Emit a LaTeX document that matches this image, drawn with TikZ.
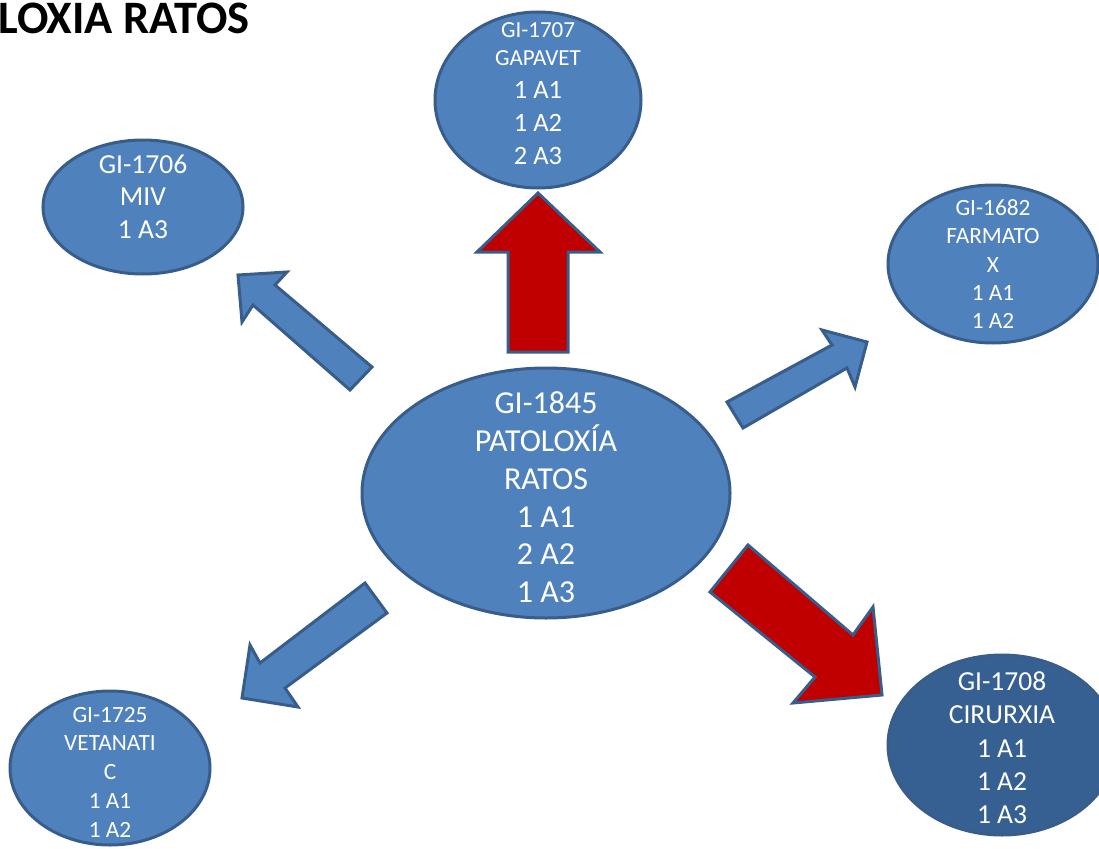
\documentclass[tikz,border=0pt]{standalone}
\usepackage{fontspec}
\setmainfont{Carlito}
\usetikzlibrary{shapes.geometric}

\definecolor{azulgrupo}{HTML}{4F81BD}
\definecolor{azulescuro}{HTML}{376092}
\definecolor{bordo}{HTML}{385D8A}
\definecolor{vermello}{HTML}{C00000}

\begin{document}
\begin{tikzpicture}[x=1pt, y=-1pt,
  grupo/.style={ellipse, draw=bordo, line width=3pt, fill=azulgrupo, inner sep=0pt},
  texto/.style={text=white, align=center, inner sep=0pt},
  frecha/.style={draw=bordo, line width=3pt, line join=miter, fill=azulgrupo},
  frechavermella/.style={frecha, fill=vermello}]
\useasboundingbox (0,0) rectangle (1099,848);
\node[anchor=base west, inner sep=0pt, font=\bfseries\fontsize{46.5}{50}\selectfont] (titulo) at (-2,34) {LOXIA RATOS};
% grupos
\node[grupo, minimum width=368pt, minimum height=250pt] (centro) at (546,493) {};
\node[texto, font=\fontsize{32}{37.8}\selectfont] (tcentro) at (546,497.4) {GI-1845\\PATOLOXÍA\\RATOS\\1 A1\\2 A2\\1 A3};
\node[grupo, minimum width=206pt, minimum height=176pt] (gapavet) at (538,100) {};
\node[texto, font=\fontsize{26.5}{33}\selectfont] (tgapavet) at (538,93.3) {{\fontsize{23}{28}\selectfont GI-1707}\\[-5pt]{\fontsize{23}{28}\selectfont GAPAVET}\\1 A1\\1 A2\\2 A3};
\node[grupo, minimum width=200pt, minimum height=134pt] (miv) at (143,207) {};
\node[texto, font=\fontsize{27.5}{32.5}\selectfont] (tmiv) at (143,196.8) {GI-1706\\MIV\\1 A3};
\node[grupo, minimum width=210pt, minimum height=158pt] (farmatox) at (993,264) {};
\node[texto, font=\fontsize{23.3}{28.25}\selectfont] (tfarmatox) at (993,264.1) {GI-1682\\FARMATO\\X\\1 A1\\1 A2};
\node[grupo, minimum width=200pt, minimum height=154pt] (vetanatic) at (110,768) {};
\node[texto, font=\fontsize{23.3}{28.75}\selectfont] (tvetanatic) at (110,772.1) {GI-1725\\VETANATI\\C\\1 A1\\1 A2};
\node[grupo, fill=azulescuro, minimum width=228pt, minimum height=180pt] (cirurxia) at (1002,745) {};
\node[texto, font=\fontsize{27.5}{33.25}\selectfont] (tcirurxia) at (1002,747.8) {GI-1708\\CIRURXIA\\1 A1\\1 A2\\1 A3};
% frechas
\draw[frechavermella] (538,193) -- (600,252) -- (568,252) -- (568,352) -- (508,352) -- (508,252) -- (477,252) -- cycle;
\draw[frechavermella] (882,695) -- (793,703) -- (815,677) -- (710,592) -- (748,545) -- (853,635) -- (873,607) -- cycle;
\draw[frecha] (238,275) -- (287,272) -- (275,285) -- (372,367) -- (350,390) -- (253,305) -- (242,322) -- cycle;
\draw[frecha] (867,342) -- (822,330) -- (832,345) -- (727,402) -- (743,428) -- (847,368) -- (855,387) -- cycle;
\draw[frecha] (242,698) -- (250,645) -- (260,663) -- (365,583) -- (387,613) -- (285,688) -- (298,707) -- cycle;
\end{tikzpicture}
\end{document}
